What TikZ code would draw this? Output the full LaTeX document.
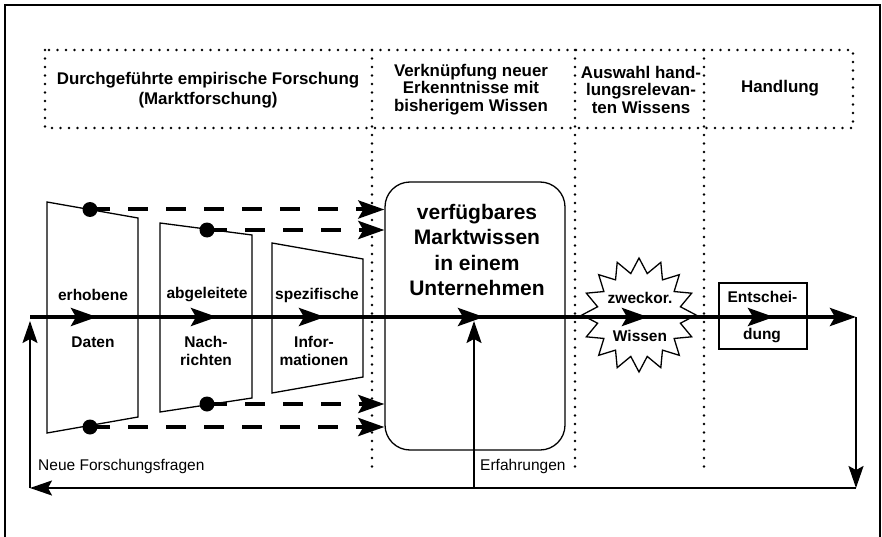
\documentclass[tikz,border=0pt]{standalone}
\usepackage{fontspec}
\setmainfont{Liberation Sans}
\usetikzlibrary{arrows.meta,shapes.geometric,decorations.markings}

\begin{document}
\begin{tikzpicture}[x=1pt,y=-1pt,
  frame/.style={line width=1.8pt},
  dotline/.style={line width=2.6pt, line cap=round, dash pattern=on 0pt off 8.5pt},
  shapeline/.style={line width=1.3pt},
  flow/.style={line width=4pt},
  bigtip/.tip={Stealth[length=26pt,width=18pt,inset=5pt]},
  thintip/.tip={Stealth[length=22pt,width=15pt,inset=4pt]},
  returnline/.style={line width=2pt, -thintip},
  dasharrow/.style={line width=4pt, dash pattern=on 20pt off 18pt, -bigtip},
  dot/.style={circle, fill, inner sep=0pt, minimum size=15pt},
  head/.style={font=\fontsize{16.9}{17.5}\selectfont\bfseries, align=center, inner sep=0pt},
  lab/.style={font=\fontsize{15.5}{18}\selectfont\bfseries, align=center, inner sep=0pt},
  boxlab/.style={font=\fontsize{21}{25.5}\selectfont\bfseries, align=center, inner sep=0pt},
  note/.style={font=\fontsize{15.5}{18}\selectfont, anchor=west, inner sep=0pt}
]
\useasboundingbox (0,0) rectangle (882,537);

% outer frame, open at the bottom
\draw[frame] (5,537) -- (5,5) -- (880,5) -- (880,537);

% header row of phases and the dotted dividers running down
\draw[dotline] (45,50) rectangle (853,128);
\coordinate (v1) at (372,50);
\coordinate (v2) at (575,50);
\coordinate (v3) at (704,50);
\draw[dotline] (v1) -- (372,468);
\draw[dotline] (v2) -- (575,468);
\draw[dotline] (v3) -- (704,468);

\node[head] (h1) at (208,90) {Durchgef\"uhrte empirische Forschung\\[2.5pt](Marktforschung)};
\node[head] (h2) at (471,89.5) {Verkn\"upfung neuer\\Erkenntnisse mit\\bisherigem Wissen};
\node[head] (h3) at (641,89.5) {Auswahl hand-\\lungsrelevan-\\ten Wissens};
\node[head] (h4) at (780,88) {Handlung};

% research stages as trapezoids
\draw[shapeline] (47,202) -- (138,218) -- (138,417) -- (47,433) -- cycle;
\draw[shapeline] (160,223) -- (252,235) -- (252,398) -- (160,412) -- cycle;
\draw[shapeline] (272,243) -- (363,259) -- (363,377) -- (272,393) -- cycle;

\node[lab] (t1a) at (93,295) {erhobene};
\node[lab] (t1b) at (93,342) {Daten};
\node[lab] (t2a) at (207,295) {abgeleitete};
\node[lab] (t2b) at (206,351) {Nach-\\richten};
\node[lab] (t3a) at (317,295) {spezifische};
\node[lab] (t3b) at (314,351) {Infor-\\mationen};

% available market knowledge
\node[draw, shapeline, rounded corners=25pt, minimum width=180pt, minimum height=268pt, inner sep=0pt] (box) at (475,316) {};
\node[boxlab] (kt) at (477,250) {verf\"ugbares\\Marktwissen\\in einem\\Unternehmen};

% purpose-oriented knowledge
\node[draw, shapeline, star, star points=16, star point ratio=1.35, minimum size=114pt, inner sep=0pt] (burst) at (639,315) {};
\node[lab] (zw) at (640,298) {zweckor.};
\node[lab] (ws) at (640,336) {Wissen};

% decision
\node[draw, shapeline, minimum width=88pt, minimum height=66pt, inner sep=0pt] (dec) at (763,316) {};
\node[lab] (da) at (762.5,297) {Entschei-};
\node[lab] (db) at (762,336) {dung};

% dashed transfers into the knowledge base
\node[dot] (p1) at (90,209.5) {};
\node[dot] (p2) at (207,230) {};
\node[dot] (p3) at (207,404) {};
\node[dot] (p4) at (90,427) {};
\draw[dasharrow] (p1.center) -- (p1.center -| box.west);
\draw[dasharrow] (p2.center) -- (p2.center -| box.west);
\draw[dasharrow] (p3.center) -- (p3.center -| box.west);
\draw[dasharrow] (p4.center) -- (p4.center -| box.west);

% main flow
\coordinate (start) at (30,317);
\coordinate (end) at (856,317);
\draw[flow, -bigtip, postaction={decorate}, decoration={markings,
   mark=at position 67pt with {\arrow{bigtip}},
   mark=at position 187pt with {\arrow{bigtip}},
   mark=at position 295pt with {\arrow{bigtip}},
   mark=at position 454pt with {\arrow{bigtip}},
   mark=at position 618pt with {\arrow{bigtip}},
   mark=at position 744pt with {\arrow{bigtip}}}] (start) -- (end);

% feedback loop
\coordinate (endlow) at (856,488);
\coordinate (startlow) at (30,488);
\coordinate (exp) at (474,488);
\draw[returnline] (end) -- (endlow);
\draw[returnline] (endlow) -- (startlow);
\draw[returnline] (startlow) -- (30,321);
\draw[returnline] (exp) -- (474,321);

\node[note] (nf) at (38,466) {Neue Forschungsfragen};
\node[note] (ef) at (480,466) {Erfahrungen};
\end{tikzpicture}
\end{document}
